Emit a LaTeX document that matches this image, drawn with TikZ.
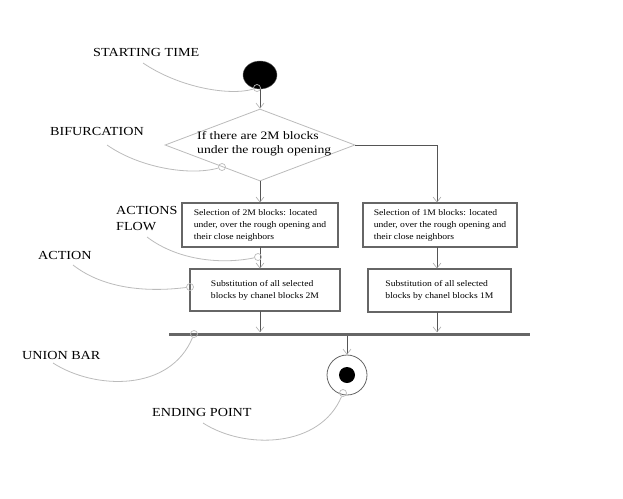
\documentclass[tikz,border=0pt]{standalone}
\usepackage{fontspec}
\setmainfont{Liberation Serif}
\newfontfamily\widefont[FakeStretch=1.15]{Liberation Serif}
\newfontfamily\widerfont[FakeStretch=1.2]{Liberation Serif}
\newfontfamily\boxfont[FakeStretch=1.12]{Liberation Serif}
\usetikzlibrary{shapes.geometric,arrows.meta}
\definecolor{lineg}{HTML}{555555}
\definecolor{boxg}{HTML}{666666}
\definecolor{callg}{HTML}{BBBBBB}
\definecolor{tipg}{HTML}{AAAAAA}
\begin{document}
\begin{tikzpicture}[x=1pt,y=-1pt,
  flow/.style={draw=lineg,line width=0.8pt,-{Straight Barb[length=5pt,width=8pt,color=tipg,line width=0.6pt]}},
  plain/.style={draw=lineg,line width=0.8pt},
  boxnode/.style={draw=boxg,line width=1.1pt,rectangle,inner sep=0pt,font=\boxfont\fontsize{8.6}{12}\selectfont,align=left},
  lbl/.style={font=\widefont\fontsize{12.3}{16}\selectfont,anchor=west,inner sep=0pt,align=left},
  call/.style={draw=callg,line width=0.8pt},
  hole/.style={circle,draw=callg,line width=0.7pt,minimum size=7pt,inner sep=0pt}]
\useasboundingbox (0,0) rectangle (623,498);
% start
\node[ellipse,fill=black,draw=boxg,minimum width=34pt,minimum height=28pt,inner sep=0pt] (start) at (260,75) {};
% decision
\node[diamond,draw=callg,line width=0.8pt,minimum width=190pt,minimum height=72pt,inner sep=0pt] (dec) at (260,145) {};
\node[font=\widerfont\fontsize{11.4}{14}\selectfont,align=left,anchor=west,inner sep=0pt] (dect) at (197,144) {If there are 2M blocks\\under the rough opening};
% boxes
\node[boxnode,minimum width=156pt,minimum height=44pt] (lb1) at (260,225) {Selection of 2M blocks: located\\under, over the rough opening and\\their close neighbors};
\node[boxnode,minimum width=150pt,minimum height=42pt] (lb2) at (265,290) {Substitution of all selected\\blocks by chanel blocks 2M};
\node[boxnode,minimum width=154pt,minimum height=44pt] (rb1) at (440,225) {Selection of 1M blocks: located\\under, over the rough opening and\\their close neighbors};
\node[boxnode,minimum width=143pt,minimum height=43pt] (rb2) at (439.5,290.5) {Substitution of all selected\\blocks by chanel blocks 1M};
% union bar
\node[rectangle,fill=boxg,minimum width=361pt,minimum height=3pt,inner sep=0pt] (bar) at (349.5,334) {};
% end
\node[circle,draw=boxg,line width=0.8pt,minimum width=40pt,inner sep=0pt] (endc) at (347,375) {};
\node[circle,fill=black,minimum size=16pt,inner sep=0pt] (endd) at (endc.center) {};
% flow connectors
\draw[flow] (start.south) -- (dec.north);
\draw[flow] (dec.south) -- (dec.south |- lb1.north);
\draw[plain] (dec.east) -- (437,145) coordinate (rturn);
\draw[flow] (rturn) -- (rturn |- rb1.north);
\draw[flow] (260,247) coordinate (l1b) -- (l1b |- lb2.north);
\draw[flow] (437,247) coordinate (r1b) -- (r1b |- rb2.north);
\draw[flow] (260,311) coordinate (l2b) -- (l2b |- bar.north);
\draw[flow] (437,312) coordinate (r2b) -- (r2b |- bar.north);
\draw[flow] (endc.north |- bar.south) -- (endc.north);
% labels
\node[lbl] (lst) at (93,52) {STARTING TIME};
\node[lbl] (lbi) at (50,131) {BIFURCATION};
\node[lbl,font=\widefont\fontsize{12.3}{16}\selectfont] (laf) at (116,219) {ACTIONS\\FLOW};
\node[lbl] (lac) at (38,255) {ACTION};
\node[lbl] (lub) at (22,355) {UNION BAR};
\node[lbl] (lep) at (152,412) {ENDING POINT};
% callout holes
\node[hole] (hst) at (257,88) {};
\node[hole] (hbi) at (222,167) {};
\node[hole] (haf) at (258,257) {};
\node[hole] (hac) at (190,287) {};
\node[hole] (hub) at (194,334) {};
\node[hole] (hep) at (343,393) {};
% callouts
\draw[call] (143,63) coordinate (cst) .. controls (180,88) and (230,96) .. (hst);
\draw[call] (107,145) coordinate (cbi) .. controls (140,168) and (190,176) .. (hbi);
\draw[call] (147,237) coordinate (caf) .. controls (180,262) and (225,264) .. (haf);
\draw[call] (73,265) coordinate (cac) .. controls (105,290) and (150,292) .. (hac);
\draw[call] (53,363) coordinate (cub) .. controls (95,390) and (170,392) .. (hub);
\draw[call] (203,423) coordinate (cep) .. controls (245,450) and (320,448) .. (hep);
\end{tikzpicture}
\end{document}
